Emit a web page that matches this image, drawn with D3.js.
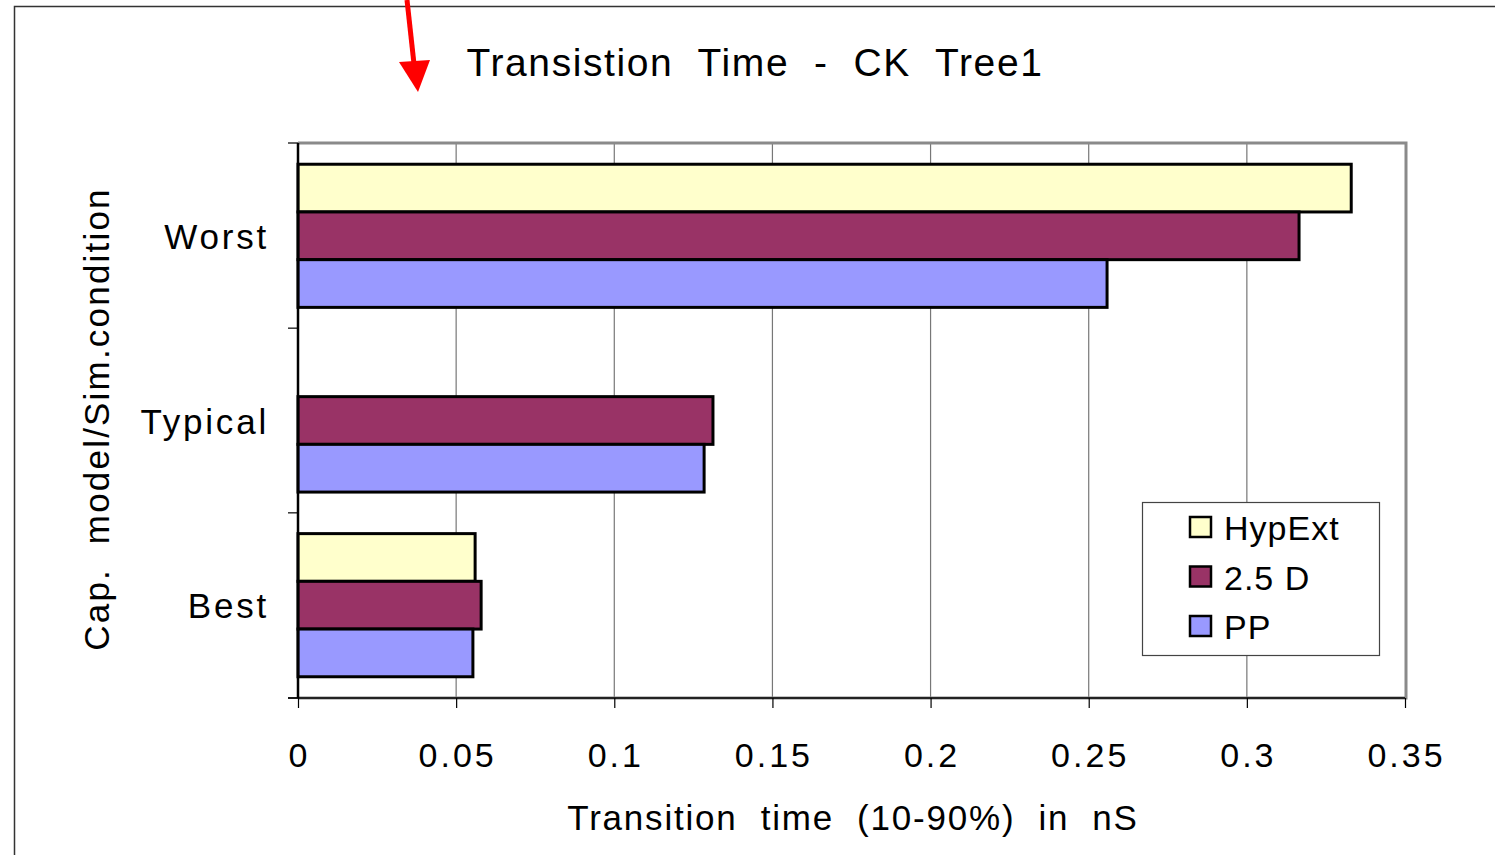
<!DOCTYPE html>
<html>
<head>
<meta charset="utf-8">
<script src="https://cdn.jsdelivr.net/npm/d3@7"></script>
<style>
  html, body { margin: 0; padding: 0; background: #fff; }
  svg { display: block; }
  text { font-family: "Liberation Sans", Arial, Helvetica, sans-serif; fill: #000; white-space: pre; }
</style>
</head>
<body>
<script>
// ---- data ----
const categories = ["Worst", "Typical", "Best"];
const seriesNames = ["HypExt", "2.5 D", "PP"];
const hypExtValues = [0.333, null, 0.056];
const d25Values = [0.3165, 0.1312, 0.0579];
const ppValues = [0.2558, 0.1284, 0.0553];
const seriesColors = ["#FFFFCC", "#993366", "#9999FF"];
const xTicks = [0, 0.05, 0.1, 0.15, 0.2, 0.25, 0.3, 0.35];
const tickLabels = ["0", "0.05", "0.1", "0.15", "0.2", "0.25", "0.3", "0.35"];
const titleText = "Transistion  Time  -  CK  Tree1";
const xTitle = "Transition  time  (10-90%)  in  nS";
const yTitle = "Cap.  model/Sim.condition";

const seriesValues = [hypExtValues, d25Values, ppValues];

const W = 1495, H = 855;
const svg = d3.select("body").append("svg").attr("width", W).attr("height", H);

// outer frame
svg.append("rect").attr("x", 14.5).attr("y", 6.5).attr("width", W + 20).attr("height", H + 20)
  .attr("fill", "none").attr("stroke", "#333").attr("stroke-width", 1.5);

const plot = { left: 298, right: 1405, top: 143, bottom: 698 };

const x = d3.scaleLinear().domain([0, 0.35]).range([plot.left, plot.right]);
const y = d3.scaleBand().domain(categories).range([plot.top, plot.bottom])
  .paddingInner(0.225).paddingOuter(0.115);
const ySub = d3.scaleBand().domain(seriesNames).range([0, y.bandwidth()]);

// gridlines
svg.append("g").selectAll("line").data(xTicks.slice(1, -1)).join("line")
  .attr("x1", d => x(d)).attr("x2", d => x(d))
  .attr("y1", plot.top).attr("y2", plot.bottom)
  .attr("stroke", "#777").attr("stroke-width", 1.2);

// plot border (gray top/right/bottom)
svg.append("path")
  .attr("d", `M${plot.left},${plot.top}H${x(0.35)+1}V${plot.bottom}H${plot.left}`)
  .attr("fill", "none").attr("stroke", "#8a8a8a").attr("stroke-width", 3);

// bars
const groups = svg.append("g").selectAll("g").data(categories).join("g")
  .attr("transform", d => `translate(0,${y(d)})`);
groups.selectAll("rect")
  .data((c, ci) => seriesNames.map((s, si) => ({ s, si, v: seriesValues[si][ci] })).filter(d => d.v != null))
  .join("rect")
  .attr("x", x(0))
  .attr("y", d => ySub(d.s))
  .attr("width", d => x(d.v) - x(0))
  .attr("height", ySub.bandwidth())
  .attr("fill", d => seriesColors[d.si])
  .attr("stroke", "#000").attr("stroke-width", 3);

// bottom axis line and ticks
const xAxis = d3.axisBottom(x).tickValues(xTicks).tickSize(10).tickFormat((d, i) => tickLabels[i]);
const gx = svg.append("g").attr("transform", `translate(0,${plot.bottom})`).call(xAxis);
gx.select(".domain").attr("stroke", "#000").attr("stroke-width", 1.5).attr("d", `M${plot.left - 10},0H${plot.right}`);
gx.selectAll(".tick line").attr("stroke", "#000").attr("stroke-width", 1.2);
gx.selectAll(".tick text").attr("y", 0).attr("dy", 0)
  .attr("transform", "translate(1,69)")
  .style("font-size", "34px").style("letter-spacing", "3px")
  .style("font-family", "'Liberation Sans', Arial, sans-serif").attr("fill", "#000");

// left axis with ticks at band boundaries
const boundaries = [plot.top, y("Typical") - y.step() * y.paddingInner() / 2, y("Best") - y.step() * y.paddingInner() / 2, plot.bottom];
svg.append("line").attr("x1", plot.left).attr("x2", plot.left).attr("y1", plot.top).attr("y2", plot.bottom)
  .attr("stroke", "#000").attr("stroke-width", 2.5);
svg.append("g").selectAll("line").data(boundaries).join("line")
  .attr("x1", plot.left - 10).attr("x2", plot.left).attr("y1", d => d).attr("y2", d => d)
  .attr("stroke", "#000").attr("stroke-width", 1.2);

// category labels
svg.append("g").selectAll("text").data(categories).join("text")
  .attr("x", 269).attr("y", d => y(d) + y.bandwidth() / 2 + 13)
  .attr("text-anchor", "end")
  .style("font-size", "35px").style("letter-spacing", "2.8px")
  .text(d => d);

// title
svg.append("text").attr("x", 755).attr("y", 76).attr("text-anchor", "middle")
  .style("font-size", "39px").style("letter-spacing", "1.6px").text(titleText);

// x title
svg.append("text").attr("x", 853).attr("y", 830).attr("text-anchor", "middle")
  .style("font-size", "35px").style("letter-spacing", "1.8px").text(xTitle);

// y title
svg.append("text").attr("transform", "translate(109,419) rotate(-90)").attr("text-anchor", "middle")
  .style("font-size", "35px").style("letter-spacing", "2.2px").text(yTitle);

// legend
const lg = svg.append("g");
lg.append("rect").attr("x", 1142.5).attr("y", 502.5).attr("width", 237).attr("height", 153)
  .attr("fill", "#fff").attr("stroke", "#444").attr("stroke-width", 1.2);
const items = lg.selectAll("g").data(seriesNames).join("g")
  .attr("transform", (d, i) => `translate(1190,${527 + i * 49.5})`);
items.append("rect").attr("x", 0).attr("y", -10).attr("width", 21).attr("height", 20)
  .attr("fill", (d, i) => seriesColors[i]).attr("stroke", "#000").attr("stroke-width", 2.5);
items.append("text").attr("x", 34).attr("y", 13)
  .style("font-size", "34px").style("letter-spacing", "1px").text(d => d);

// red arrow
svg.append("line").attr("x1", 407).attr("y1", 0).attr("x2", 414).attr("y2", 64)
  .attr("stroke", "#ff0000").attr("stroke-width", 5);
svg.append("path").attr("d", "M399,62L430,60L418,92Z").attr("fill", "#ff0000");
</script>
</body>
</html>
